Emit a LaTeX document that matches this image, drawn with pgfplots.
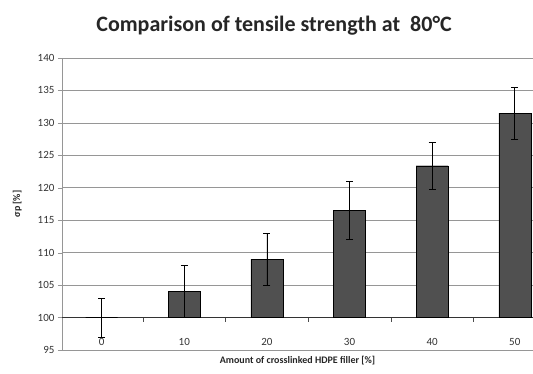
\documentclass[border=0pt]{standalone}
\usepackage{pgfplots}
\pgfplotsset{compat=1.18}
\usepackage{pgfplotstable}
\usepackage{fontspec}
\setmainfont{Carlito}
\definecolor{barfill}{RGB}{80,80,80}
\definecolor{gridc}{RGB}{150,150,150}
\pgfplotstableread{
x y err
0 100 3
1 104 4
2 109 4
3 116.5 4.5
4 123.4 3.6
5 131.5 4
}\datatable
\begin{document}
\begin{tikzpicture}
\useasboundingbox (0,0) rectangle (533pt,374pt);
\node[font=\bfseries\fontsize{22}{24}\selectfont, text=black!85] at (274pt,348pt) {Comparison of tensile strength at\ \ 80°C};
\begin{axis}[
  at={(62pt,24pt)}, anchor=south west,
  scale only axis, width=471pt, height=292pt,
  xmin=-0.48, xmax=5.22,
  ymin=-5, ymax=40,
  y filter/.expression={y-100},
  ytick={-5,0,...,40},
  yticklabels={95,100,105,110,115,120,125,130,135,140},
  xtick={0,1,2,3,4,5},
  xticklabels={0,10,20,30,40,50},
  axis x line*=bottom, axis y line*=left,
  axis line style={gridc},
  ymajorgrids, grid style={gridc, line width=0.6pt},
  major x tick style={draw=none},
  major y tick style={gridc},
  tick align=outside, major tick length=4pt,
  ticklabel style={font=\fontsize{11}{12}\selectfont, text=black!80},
  xticklabel style={anchor=center, yshift=12pt},
  /pgf/number format/assume math mode=true,
  xlabel={Amount of crosslinked HDPE filler [\%]},
  xlabel style={at={(axis description cs:0.5,0)}, anchor=north, yshift=-3pt, font=\bfseries\fontsize{10}{12}\selectfont, text=black!85},
  ylabel={σp [\%]},
  ylabel style={at={(axis description cs:-0.095,0.5)}, anchor=center, rotate=0, font=\bfseries\fontsize{10}{12}\selectfont, text=black!85},
  extra y ticks={0}, extra y tick labels={},
  extra y tick style={grid style={black!80, line width=0.6pt}},
  clip=false,
]
\addplot[ybar, bar width=32pt, bar shift=0pt, fill=barfill, draw=black,
  error bars/.cd, y dir=both, y explicit,
  error bar style={black, line width=0.8pt},
  error mark options={rotate=90, mark size=3.5pt, black, line width=0.8pt}]
  table[x=x, y=y, y error=err] {\datatable};
\pgfplotsinvokeforeach{0.5,1.5,2.5,3.5,4.5}{
  \draw[black!70] (axis cs:#1,0) -- ([yshift=-4pt]axis cs:#1,0);
}
\end{axis}
\end{tikzpicture}
\end{document}
